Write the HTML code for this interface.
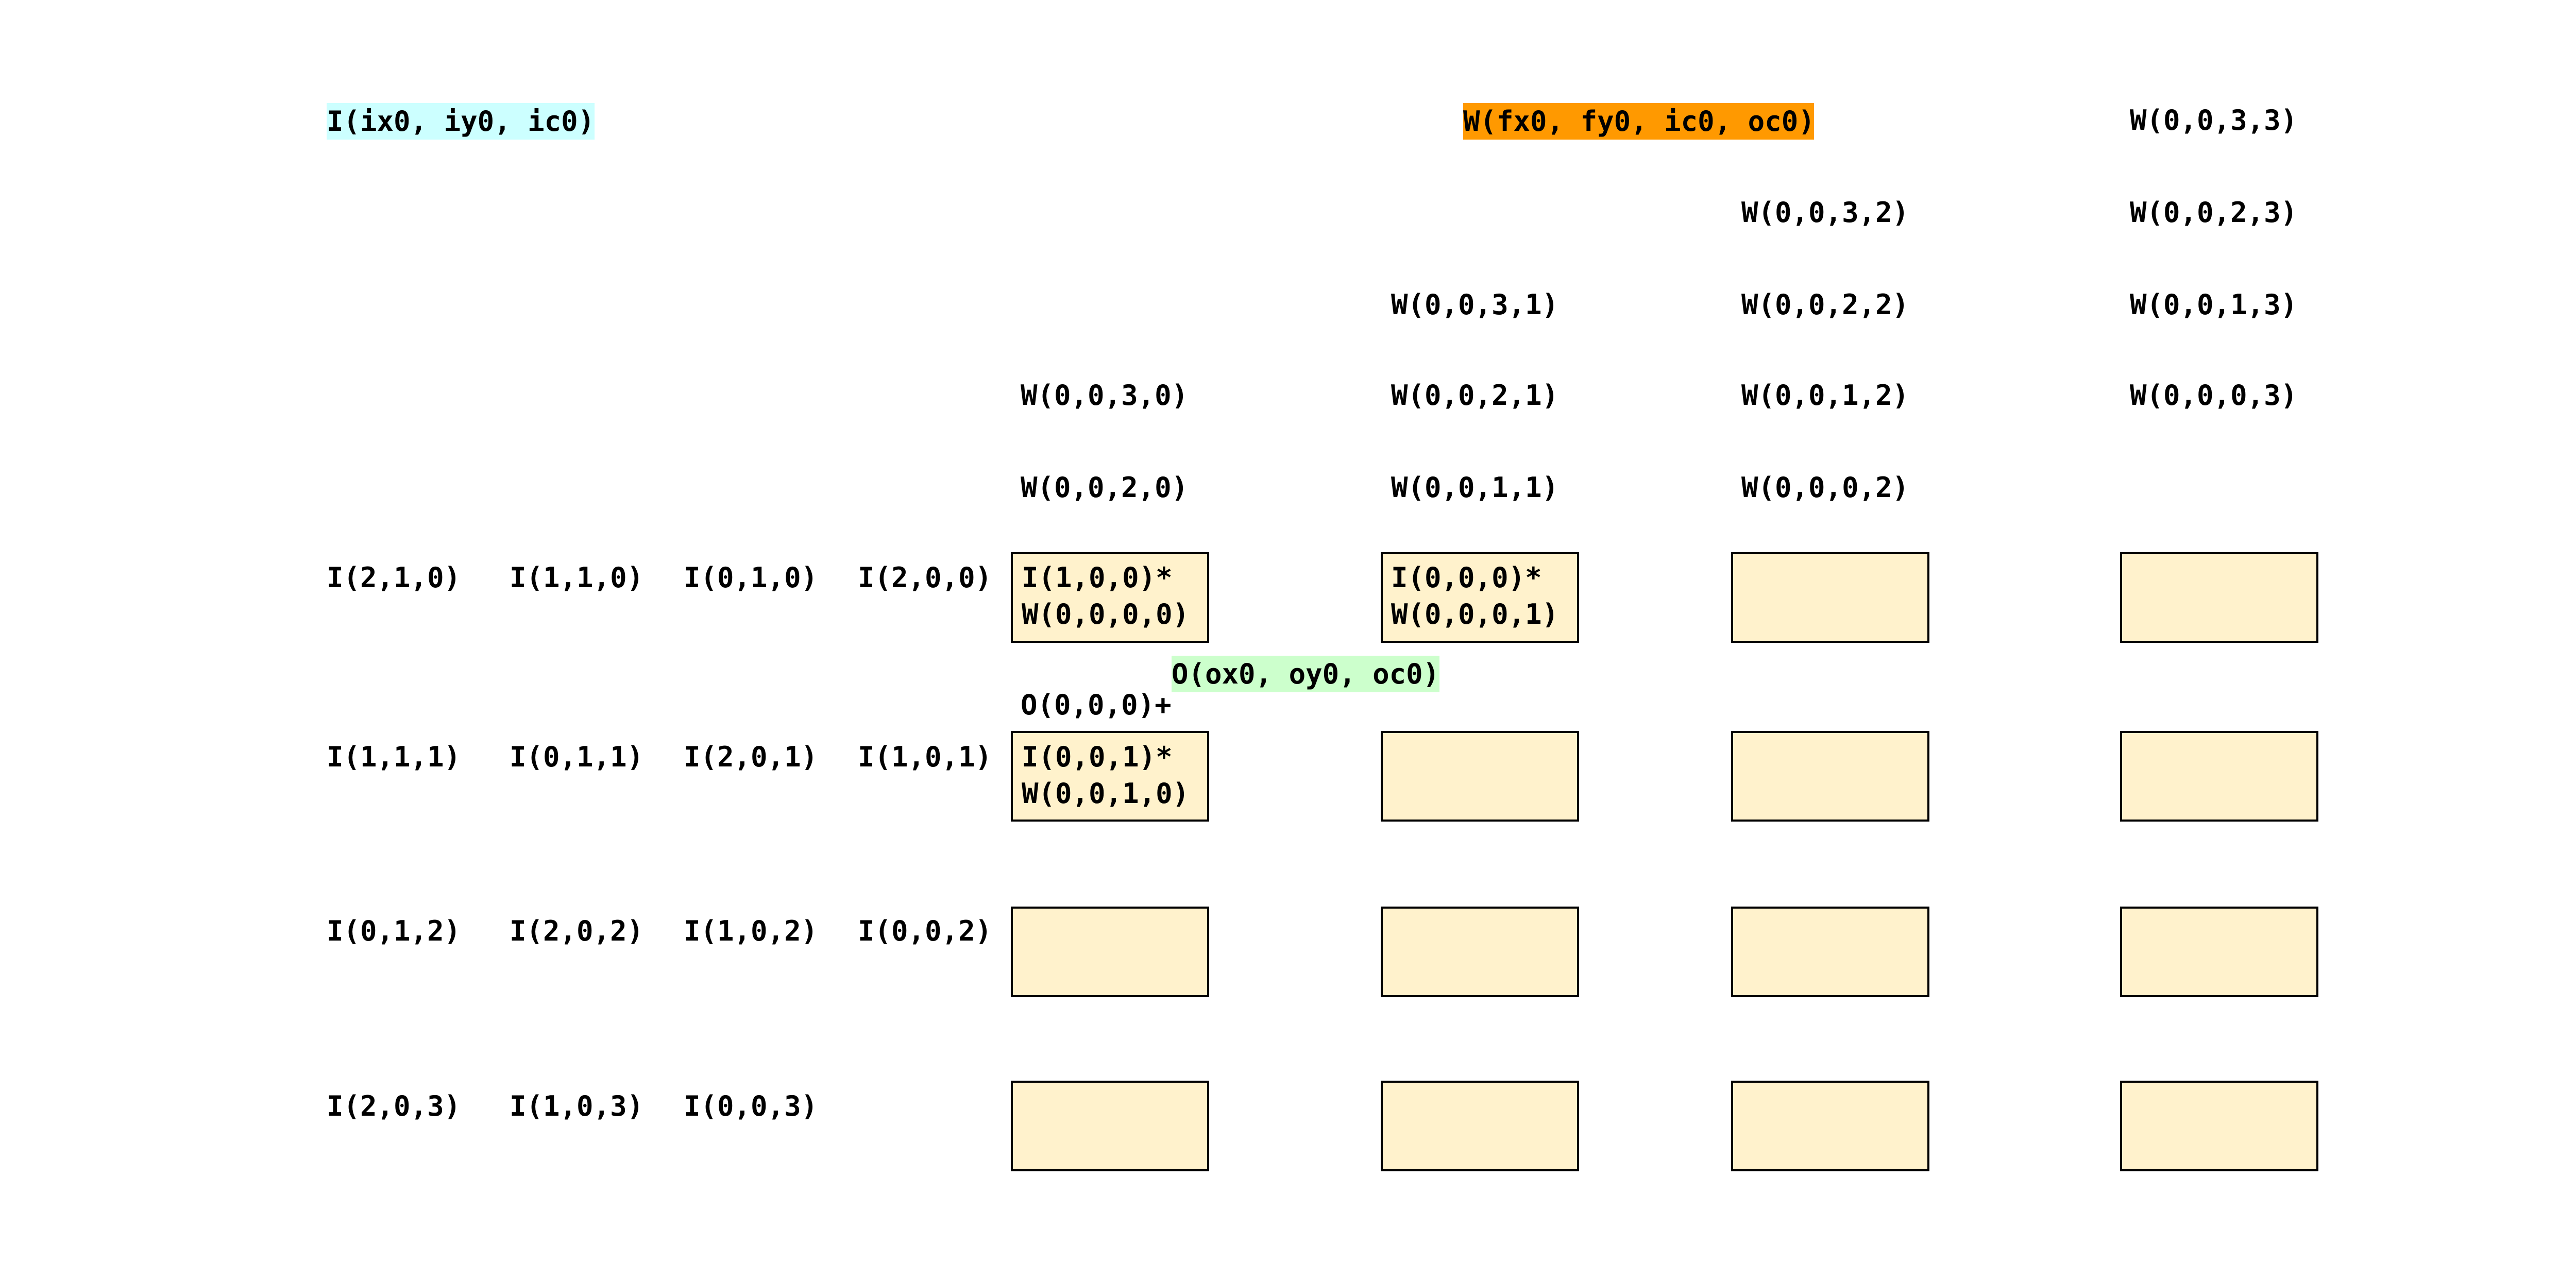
<!DOCTYPE html>
<html><head><meta charset="utf-8"><style>
body{margin:0;width:5100px;height:2452px;background:#fff;position:relative;overflow:hidden}
.t{position:absolute;font-family:"DejaVu Sans Mono","Liberation Mono",monospace;font-weight:bold;font-size:54px;line-height:71px;white-space:pre;color:#000}
.b{position:absolute;width:377px;height:168px;background:#fff2cc;border:4px solid #000}
</style></head><body>
<div class="t" style="left:634px;top:200px;background:#ccffff">I(ix0, iy0, ic0)</div>
<div class="t" style="left:2840px;top:200px;background:#ff9900;width:681px">W(fx0, fy0, ic0, oc0)</div>
<div class="t" style="left:2274px;top:1273px;background:#ccffcc;width:520px">O(ox0, oy0, oc0)</div>

<div class="t" style="left:4134px;top:198px">W(0,0,3,3)</div>
<div class="t" style="left:3380px;top:377px">W(0,0,3,2)</div>
<div class="t" style="left:4134px;top:377px">W(0,0,2,3)</div>
<div class="t" style="left:2700px;top:556px">W(0,0,3,1)</div>
<div class="t" style="left:3380px;top:556px">W(0,0,2,2)</div>
<div class="t" style="left:4134px;top:556px">W(0,0,1,3)</div>
<div class="t" style="left:1981px;top:732px">W(0,0,3,0)</div>
<div class="t" style="left:2700px;top:732px">W(0,0,2,1)</div>
<div class="t" style="left:3380px;top:732px">W(0,0,1,2)</div>
<div class="t" style="left:4134px;top:732px">W(0,0,0,3)</div>
<div class="t" style="left:1981px;top:911px">W(0,0,2,0)</div>
<div class="t" style="left:2700px;top:911px">W(0,0,1,1)</div>
<div class="t" style="left:3380px;top:911px">W(0,0,0,2)</div>

<div class="b" style="left:1962px;top:1072px"></div>
<div class="b" style="left:2680px;top:1072px"></div>
<div class="b" style="left:3360px;top:1072px"></div>
<div class="b" style="left:4115px;top:1072px"></div>
<div class="b" style="left:1962px;top:1419px"></div>
<div class="b" style="left:2680px;top:1419px"></div>
<div class="b" style="left:3360px;top:1419px"></div>
<div class="b" style="left:4115px;top:1419px"></div>
<div class="b" style="left:1962px;top:1760px"></div>
<div class="b" style="left:2680px;top:1760px"></div>
<div class="b" style="left:3360px;top:1760px"></div>
<div class="b" style="left:4115px;top:1760px"></div>
<div class="b" style="left:1962px;top:2098px"></div>
<div class="b" style="left:2680px;top:2098px"></div>
<div class="b" style="left:3360px;top:2098px"></div>
<div class="b" style="left:4115px;top:2098px"></div>

<div class="t" style="left:1983px;top:1086px">I(1,0,0)*
W(0,0,0,0)</div>
<div class="t" style="left:2700px;top:1086px">I(0,0,0)*
W(0,0,0,1)</div>
<div class="t" style="left:1983px;top:1434px">I(0,0,1)*
W(0,0,1,0)</div>
<div class="t" style="left:1981px;top:1333px">O(0,0,0)+</div>

<div class="t" style="left:634px;top:1086px">I(2,1,0)</div>
<div class="t" style="left:989px;top:1086px">I(1,1,0)</div>
<div class="t" style="left:1327px;top:1086px">I(0,1,0)</div>
<div class="t" style="left:1665px;top:1086px">I(2,0,0)</div>
<div class="t" style="left:634px;top:1434px">I(1,1,1)</div>
<div class="t" style="left:989px;top:1434px">I(0,1,1)</div>
<div class="t" style="left:1327px;top:1434px">I(2,0,1)</div>
<div class="t" style="left:1665px;top:1434px">I(1,0,1)</div>
<div class="t" style="left:634px;top:1772px">I(0,1,2)</div>
<div class="t" style="left:989px;top:1772px">I(2,0,2)</div>
<div class="t" style="left:1327px;top:1772px">I(1,0,2)</div>
<div class="t" style="left:1665px;top:1772px">I(0,0,2)</div>
<div class="t" style="left:634px;top:2112px">I(2,0,3)</div>
<div class="t" style="left:989px;top:2112px">I(1,0,3)</div>
<div class="t" style="left:1327px;top:2112px">I(0,0,3)</div>
</body></html>
